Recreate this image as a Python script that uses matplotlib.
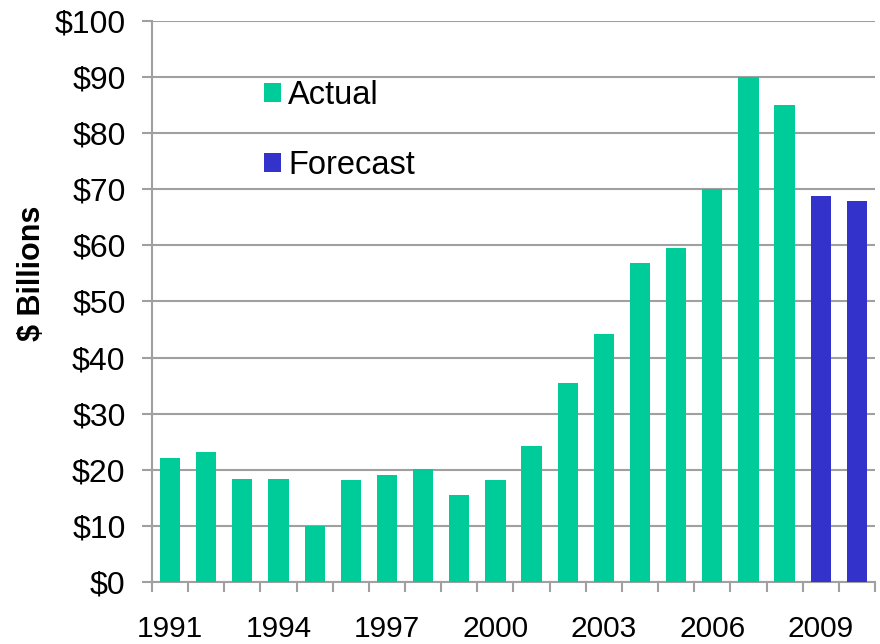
import numpy as np
import matplotlib
matplotlib.use('Agg')
import matplotlib.pyplot as plt
from matplotlib.patches import Patch

plt.rcParams['font.family'] = ['Liberation Sans', 'DejaVu Sans']

years = list(range(1991, 2011))
values = [22.1, 23.2, 18.4, 18.4, 10.0, 18.1, 19.0, 20.2, 15.5, 18.1,
          24.2, 35.5, 44.2, 56.8, 59.6, 70.1, 90.0, 85.1, 68.8, 67.9]
forecast_from = 2009
year_labels = ['1991', '1994', '1997', '2000', '2003', '2006', '2009']
y_ticks = [0, 10, 20, 30, 40, 50, 60, 70, 80, 90, 100]

green = '#00CC99'
blue = '#3333CC'
grid_col = '#A0A0A0'

fig = plt.figure(figsize=(8.8, 6.44), dpi=100)
ax = fig.add_axes([0.1727, 0.0963, 0.8216, 0.8711])

x = np.arange(len(years))
colors = [blue if y >= forecast_from else green for y in years]
ax.bar(x, values, width=0.56, color=colors, zorder=3)

ax.set_xlim(-0.5, len(years) - 0.5)
ax.set_ylim(0, 100)
ax.set_yticks(y_ticks)
ax.set_yticklabels(['$' + str(v) for v in y_ticks])
ax.grid(axis='y', color=grid_col, linewidth=1.5, zorder=0)

# boundary ticks, labels only every third year
ax.set_xticks(np.arange(len(years) + 1) - 0.5)
ax.set_xticklabels([])
lab_pos = [years.index(int(s)) for s in year_labels]
ax.set_xticks(lab_pos, minor=True)
ax.set_xticklabels(year_labels, minor=True)
ax.tick_params(axis='x', which='major', length=7, width=1.5, color=grid_col, direction='out')
ax.tick_params(axis='x', which='minor', length=0, pad=24, labelsize=21.5)
ax.tick_params(axis='y', length=7, width=1.5, color=grid_col, pad=12, labelsize=23)

for s in ['top', 'right']:
    ax.spines[s].set_visible(False)
for s in ['left', 'bottom']:
    ax.spines[s].set_color(grid_col)
    ax.spines[s].set_linewidth(1.5)

fig.text(0.036, 0.575, '$ Billions', rotation=90, fontsize=22, fontweight='bold',
         ha='center', va='center')

handles = [Patch(facecolor=green, label='Actual'), Patch(facecolor=blue, label='Forecast')]
ax.legend(handles=handles, loc='upper left', bbox_to_anchor=(0.155, 0.894), frameon=False,
          fontsize=23.5, handlelength=0.52, handleheight=0.52, handletextpad=0.22,
          labelspacing=1.18, borderpad=0, borderaxespad=0)

fig.savefig('out.png', dpi=100)
